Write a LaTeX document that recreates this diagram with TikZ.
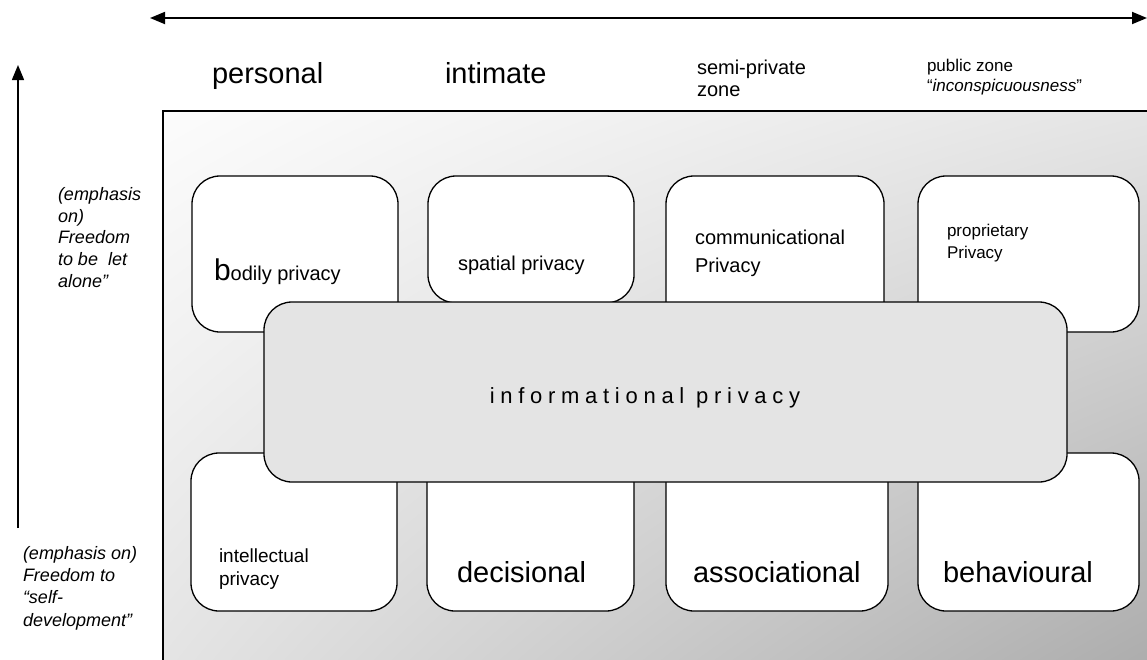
\documentclass[tikz,border=0pt]{standalone}
\usepackage{fontspec}
\setmainfont{Liberation Sans}
\usetikzlibrary{arrows.meta,shadings}
\begin{document}
\begin{tikzpicture}[x=1pt,y=-1pt,
  box/.style={draw, line width=1.3pt, fill=white, rounded corners=28pt, anchor=north west, inner sep=0pt, outer sep=0pt},
  infobox/.style={box, fill=infogray},
  zonebox/.style={draw, line width=1.8pt, anchor=north west, inner sep=0pt, outer sep=0pt,
     upper left=shadeTL, upper right=shadeTR, lower left=shadeBL, lower right=shadeBR},
  lbl/.style={anchor=base west, inner sep=0pt, outer sep=0pt, align=left},
  dblarrow/.style={line width=1.8pt, {Triangle[length=15pt,width=12pt]}-{Triangle[length=15pt,width=12pt]}},
  uparrow/.style={line width=1.5pt, -{Triangle[length=15pt,width=12pt]}},
  big/.style={font=\fontsize{29}{33}\selectfont},
  mid/.style={font=\fontsize{20}{23}\selectfont},
  small/.style={font=\fontsize{17}{20}\selectfont},
  side/.style={font=\fontsize{18}{21.6}\selectfont\itshape}]
\definecolor{infogray}{HTML}{E4E4E4}
\definecolor{shadeTL}{HTML}{FCFCFC}
\definecolor{shadeTR}{HTML}{E4E4E4}
\definecolor{shadeBL}{HTML}{E2E2E2}
\definecolor{shadeBR}{HTML}{A6A6A6}
\useasboundingbox (0,0) rectangle (1147,659);
\clip (0,0) rectangle (1147,659);
% arrows
\coordinate (hl) at (150,18);
\coordinate (hr) at (1147,18);
\draw[dblarrow] (hl) -- (hr);
\coordinate (vb) at (18,528);
\coordinate (vt) at (18,65);
\draw[uparrow] (vb) -- (vt);
% zone labels (base = baseline of last line)
\node[lbl, big] (personal) at (212,83) {personal};
\node[lbl, big] (intimate) at (445,83) {intimate};
\node[lbl, font=\fontsize{20}{21.5}\selectfont] (semi) at (697,96) {semi-private\\zone};
\node[lbl, small] (public) at (927,91) {public zone\\“\textit{inconspicuousness}”};
% side labels
\node[lbl, side] (top side) at (58,287) {(emphasis\\on)\\Freedom\\to be \ let\\alone”};
\node[lbl, font=\fontsize{18}{22.3}\selectfont\itshape] (bottom side) at (23,626) {(emphasis on)\\Freedom to\\“self-\\development”};
% background zone
\node[zonebox, minimum width=1020pt, minimum height=600pt] (zone) at (163,111) {};
% top row
\node[box, minimum width=206pt, minimum height=156pt] (bodily) at (192,176) {};
\node[box, minimum width=206pt, minimum height=127pt] (spatial) at (428,176) {};
\node[box, minimum width=218pt, minimum height=156pt] (comm) at (666,176) {};
\node[box, minimum width=221pt, minimum height=156pt] (prop) at (918,176) {};
% bottom row
\node[box, minimum width=206pt, minimum height=158pt] (intel) at (191,453) {};
\node[box, minimum width=207pt, minimum height=158pt] (decis) at (427,453) {};
\node[box, minimum width=222pt, minimum height=158pt] (assoc) at (666,453) {};
\node[box, minimum width=221pt, minimum height=158pt] (behav) at (918,453) {};
% informational
\node[infobox, minimum width=803pt, minimum height=180pt] (info) at (264,302) {};
% texts in boxes
\node[lbl] (bodily text) at (214,280) {\fontsize{30}{33}\selectfont b\fontsize{20}{23}\selectfont odily privacy};
\node[lbl, mid] (spatial text) at (458,270) {spatial privacy};
\node[lbl, font=\fontsize{20}{27.5}\selectfont] (comm text) at (695,272) {communicational\\Privacy};
\node[lbl, font=\fontsize{17}{22}\selectfont] (prop text) at (947,258) {proprietary\\Privacy};
\node[lbl, font=\fontsize{19}{23}\selectfont] (intel text) at (219,585) {intellectual\\privacy};
\node[lbl, big] (decis text) at (457,582) {decisional};
\node[lbl, big] (assoc text) at (693,582) {associational};
\node[lbl, big] (behav text) at (943,582) {behavioural};
\node[anchor=base, inner sep=0pt, font=\fontsize{22}{25}\selectfont\addfontfeatures{LetterSpace=26}] (info text) at (645,403) {informational privacy};
\end{tikzpicture}
\end{document}
